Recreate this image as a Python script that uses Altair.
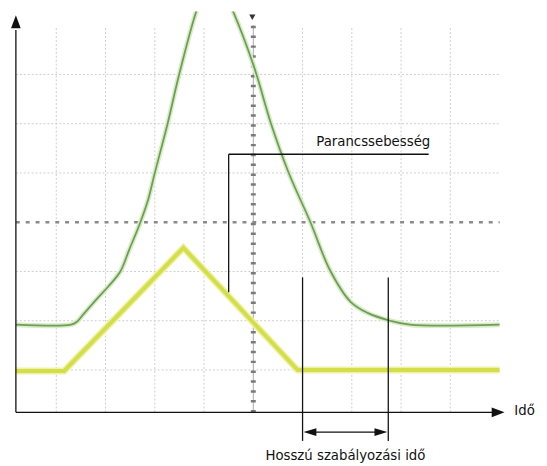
import altair as alt
import pandas as pd

# Readings in screen divisions (grid centre = 0, 0)
green_t = [-4.82, -3.70, -3.58, -3.46, -3.18, -2.94, -2.70, -2.52, -2.30, -2.14, -2.00, -1.74, -1.50, -1.10,
           -0.94, -0.78, -0.62, -0.48, 0.00, 0.36, 0.72, 1.16, 1.56, 1.98, 2.32, 2.78, 3.18, 5.00]
green_v = [-2.08, -2.08, -2.02, -1.88, -1.56, -1.30, -1.00, -0.56, -0.02, 0.44, 1.00, 2.00, 3.02, 4.44,
           4.72, 4.84, 4.72, 4.44, 3.20, 2.00, 1.00, 0.00, -0.98, -1.62, -1.84, -2.00, -2.08, -2.08]
yellow_t = [-4.82, -3.84, -1.42, 0.90, 5.00]
yellow_v = [-3.02, -3.02, -0.52, -3.00, -3.00]

grid_t = [-4, -3, -2, -1, 1, 2, 3, 4]
grid_v = [3, 2, 1, -1, -2, -3]

label_cmd = "Parancssebesség"
label_time = "Idő"
label_settle = "Hosszú szabályozási idő"

FONT = "DejaVu Sans Condensed, Liberation Sans Narrow, Arial Narrow, sans-serif"
X = alt.Scale(domain=[-4.98, 5.80], nice=False, zero=False)
Y = alt.Scale(domain=[-4.88, 4.28], nice=False, zero=False)


def xe(f):
    return alt.X(f, type="quantitative", scale=X, axis=None)


def ye(f):
    return alt.Y(f, type="quantitative", scale=Y, axis=None)


def rules(df, **style):
    return alt.Chart(df).mark_rule(**style).encode(
        x=xe("x"), x2="x2", y=ye("y"), y2="y2")


vgrid = pd.DataFrame({"x": grid_t, "x2": grid_t,
                      "y": [-3.86] * len(grid_t), "y2": [3.94] * len(grid_t)})
hgrid = pd.DataFrame({"x": [-4.82] * len(grid_v), "x2": [5.0] * len(grid_v),
                      "y": grid_v, "y2": grid_v})
cv = pd.DataFrame({"x": [0.0], "x2": [0.0], "y": [-3.86], "y2": [4.0]})
ch = pd.DataFrame({"x": [-4.82], "x2": [5.0], "y": [0.0], "y2": [0.0]})

layers = [
    rules(vgrid, color="#cdcdcd", strokeWidth=1, strokeDash=[2, 2]),
    rules(hgrid, color="#cdcdcd", strokeWidth=1, strokeDash=[2, 2]),
    rules(cv, color="#a8a8a8", strokeWidth=1),
    rules(cv, color="#7a7a7a", strokeWidth=5, strokeDash=[2.5, 7.5]),
    rules(ch, color="#8a8a8a", strokeWidth=2.5, strokeDash=[4, 6]),
]

green = pd.DataFrame({"t": green_t, "v": green_v})
yellow = pd.DataFrame({"t": yellow_t, "v": yellow_v})

layers += [
    alt.Chart(green).mark_line(color="#d8ecc8", strokeWidth=5, interpolate="catmull-rom", clip=True)
    .encode(x=xe("t"), y=ye("v")),
    alt.Chart(green).mark_line(color="#6e9e54", strokeWidth=1.8, interpolate="catmull-rom", clip=True)
    .encode(x=xe("t"), y=ye("v")),
    alt.Chart(yellow).mark_line(color="#eef2a6", strokeWidth=7)
    .encode(x=xe("t"), y=ye("v")),
    alt.Chart(yellow).mark_line(color="#d3de4a", strokeWidth=4)
    .encode(x=xe("t"), y=ye("v")),
]

# black annotation lines
ann = pd.DataFrame({
    "x":  [-4.82, -4.82, -0.50, -0.50, 1.00, 2.74, 1.10],
    "x2": [-4.82, 4.90, 3.56, -0.50, 1.00, 2.74, 2.64],
    "y":  [-3.86, -3.86, 1.38, 1.38, -1.12, -1.12, -4.26],
    "y2": [3.90, -3.86, 1.38, -1.42, -4.44, -4.44, -4.26],
})
layers.append(rules(ann, color="#111111", strokeWidth=1.3))

# arrowheads
heads = pd.DataFrame({
    "t": [-4.82, 4.97, 1.15, 2.59],
    "v": [4.07, -3.86, -4.26, -4.26],
    "shape": ["M0,-1L0.75,1L-0.75,1Z", "M1,0L-1,-0.75L-1,0.75Z",
              "M-1,0L1,-0.6L1,0.6Z", "M1,0L-1,-0.6L-1,0.6Z"],
})
layers.append(
    alt.Chart(heads).mark_point(filled=True, color="#111111", opacity=1, size=169, strokeWidth=0)
    .encode(x=xe("t"), y=ye("v"), shape=alt.Shape("shape:N", scale=None, legend=None))
)
trig = pd.DataFrame({"t": [-0.02], "v": [4.16]})
layers.append(
    alt.Chart(trig).mark_point(filled=True, color="#333333", opacity=1, size=40, shape="triangle-down")
    .encode(x=xe("t"), y=ye("v"))
)

texts = pd.DataFrame({
    "t": [1.28, 5.30, 1.87],
    "v": [1.64, -3.82, -4.72],
    "txt": [label_cmd, label_time, label_settle],
    "al": ["left", "left", "center"],
})
for _, r in texts.iterrows():
    layers.append(
        alt.Chart(pd.DataFrame([r])).mark_text(font=FONT, fontSize=15, color="#111111",
                                               align=r["al"], baseline="middle")
        .encode(x=xe("t"), y=ye("v"), text="txt:N")
    )

chart = alt.layer(*layers).properties(
    width=539, height=458, padding=0, background="white",
    autosize=alt.AutoSizeParams(type="none"),
).configure_view(strokeWidth=0)

chart.save("out.html", embed_options={"renderer": "svg", "actions": False})
